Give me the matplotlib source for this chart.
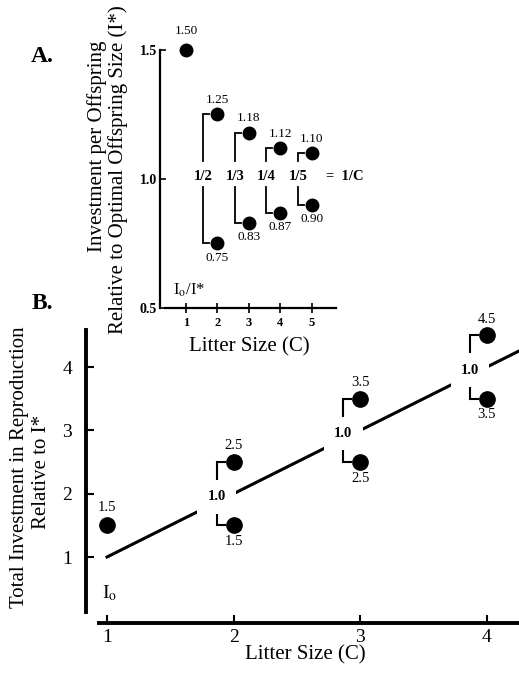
import matplotlib
matplotlib.use("Agg")
import matplotlib.pyplot as plt

plt.rcParams['font.family'] = ['Liberation Serif', 'DejaVu Serif']
plt.rcParams['mathtext.fontset'] = 'stix'

# ---------------- Panel A data ----------------
single_c = [1]
single_i = [1.50]
single_lbl = ["1.50"]
pair_c = [2, 3, 4, 5]
upper_i = [1.25, 1.18, 1.12, 1.10]
lower_i = [0.75, 0.83, 0.87, 0.90]
upper_lbl = ["1.25", "1.18", "1.12", "1.10"]
lower_lbl = ["0.75", "0.83", "0.87", "0.90"]
frac_lbl = ["1/2", "1/3", "1/4", "1/5"]
a_xticks = [1, 2, 3, 4, 5]
a_yticks = [0.5, 1.0, 1.5]
a_yticklabels = ["0.5", "1.0", "1.5"]

# ---------------- Panel B data ----------------
b_single_c = [1]
b_single_t = [1.5]
b_single_lbl = ["1.5"]
b_pair_c = [2, 3, 4]
b_upper = [2.5, 3.5, 4.5]
b_lower = [1.5, 2.5, 3.5]
b_upper_lbl = ["2.5", "3.5", "4.5"]
b_lower_lbl = ["1.5", "2.5", "3.5"]
trend_c = [1.0, 4.26]
trend_t = [1.0, 4.26]
b_xticks = [1, 2, 3, 4]
b_yticks = [1, 2, 3, 4]

W, H = 519, 675
fig = plt.figure(figsize=(W / 100, H / 100), dpi=100)

def ax_rect(x0, y0, x1, y1):
    return [x0 / W, 1 - y1 / H, (x1 - x0) / W, (y1 - y0) / H]

# ================= Panel A =================
axA = fig.add_axes(ax_rect(160, 19, 335.6, 308))
axA.set_xlim(0.175, 5.75)
axA.set_ylim(0.5, 1.62)
for s in ['top', 'right']:
    axA.spines[s].set_visible(False)
axA.spines['left'].set_bounds(0.5, 1.5)
axA.spines['bottom'].set_bounds(0.33, 5.75)
axA.spines['left'].set_linewidth(1.6)
axA.spines['bottom'].set_linewidth(1.6)
axA.set_xticks(a_xticks)
axA.set_xticklabels([str(v) for v in a_xticks], fontsize=9, fontweight='bold')
axA.set_yticks(a_yticks)
axA.set_yticklabels(a_yticklabels, fontsize=10, fontweight='bold')
axA.tick_params(axis='x', direction='inout', length=7, width=1.2, pad=3)
axA.tick_params(axis='y', direction='in', length=4, width=1.2, pad=2)

msA = 9
axA.plot(single_c, single_i, 'o', color='black', ms=msA, clip_on=False, zorder=4)
axA.plot(pair_c, upper_i, 'o', color='black', ms=msA, zorder=4)
axA.plot(pair_c, lower_i, 'o', color='black', ms=msA, zorder=4)
for c, v, l in zip(single_c, single_i, single_lbl):
    axA.annotate(l, (c, v), xytext=(0, 9), textcoords='offset points',
                 ha='center', va='bottom', fontsize=9.5, annotation_clip=False)
for c, v, l in zip(pair_c, upper_i, upper_lbl):
    axA.annotate(l, (c, v), xytext=(0, 6), textcoords='offset points',
                 ha='center', va='bottom', fontsize=9.5)
for c, v, l in zip(pair_c, lower_i, lower_lbl):
    axA.annotate(l, (c, v), xytext=(0, -6), textcoords='offset points',
                 ha='center', va='top', fontsize=9.5)
# brackets
for c, u, lo, f in zip(pair_c, upper_i, lower_i, frac_lbl):
    bx = c - 0.45
    sx = c - 0.26
    axA.plot([sx, bx, bx], [u, u, 1.07], color='black', lw=1.3, solid_joinstyle='miter')
    axA.plot([sx, bx, bx], [lo, lo, 0.97], color='black', lw=1.3, solid_joinstyle='miter')
    axA.text(bx, 1.01, f, ha='center', va='center', fontsize=10.5, fontweight='bold')
axA.text(5.45, 1.01, "=  1/C", ha='left', va='center', fontsize=10.5,
         fontweight='bold', clip_on=False)
axA.text(0.6, 0.57, r"I$_{\mathrm{o}}$/I*", ha='left', va='center', fontsize=12)

fig.text(97 / W, 1 - 146 / H, "Investment per Offspring", rotation=90,
         ha='center', va='center', fontsize=15)
fig.text(118 / W, 1 - 170 / H, "Relative to Optimal Offspring Size (I*)",
         rotation=90, ha='center', va='center', fontsize=15)
fig.text(249 / W, 1 - 347 / H, "Litter Size (C)", ha='center', va='center', fontsize=15)
fig.text(42 / W, 1 - 57 / H, "A.", ha='center', va='center', fontsize=17, fontweight='bold')
fig.text(42 / W, 1 - 304 / H, "B.", ha='center', va='center', fontsize=17, fontweight='bold')

# ================= Panel B =================
axB = fig.add_axes(ax_rect(86, 329, 519, 623))
axB.set_xlim(0.834, 4.253)
axB.set_ylim(-0.042, 4.6)
for s in ['top', 'right']:
    axB.spines[s].set_visible(False)
axB.spines['left'].set_bounds(0.13, 4.584)
axB.spines['bottom'].set_bounds(0.937, 4.253)
axB.spines['left'].set_linewidth(2.8)
axB.spines['bottom'].set_linewidth(2.8)
axB.set_xticks(b_xticks)
axB.set_xticklabels([str(v) for v in b_xticks], fontsize=14)
axB.set_yticks(b_yticks)
axB.set_yticklabels([str(v) for v in b_yticks], fontsize=14)
axB.tick_params(axis='x', direction='in', length=6, width=1.5, pad=4)
axB.tick_params(axis='y', direction='in', length=6, width=1.5, pad=10)

axB.plot(trend_c, trend_t, color='black', lw=2.2, zorder=2, clip_on=False)
msB = 11
axB.plot(b_single_c, b_single_t, 'o', color='black', ms=msB, zorder=4)
axB.plot(b_pair_c, b_upper, 'o', color='black', ms=msB, zorder=4, clip_on=False)
axB.plot(b_pair_c, b_lower, 'o', color='black', ms=msB, zorder=4)
for c, v, l in zip(b_single_c, b_single_t, b_single_lbl):
    axB.annotate(l, (c, v), xytext=(0, 8), textcoords='offset points',
                 ha='center', va='bottom', fontsize=10.5)
for c, v, l in zip(b_pair_c, b_upper, b_upper_lbl):
    axB.annotate(l, (c, v), xytext=(0, 7), textcoords='offset points',
                 ha='center', va='bottom', fontsize=10.5, annotation_clip=False)
for c, v, l in zip(b_pair_c, b_lower, b_lower_lbl):
    axB.annotate(l, (c, v), xytext=(0, -7), textcoords='offset points',
                 ha='center', va='top', fontsize=10.5)
for c, u, lo in zip(b_pair_c, b_upper, b_lower):
    bx = c - 0.135
    sx = c - 0.07
    axB.plot([sx, bx, bx], [u, u, c + 0.2], color='black', lw=1.5,
             solid_joinstyle='miter', zorder=2)
    axB.plot([sx, bx, bx], [lo, lo, c - 0.2], color='black', lw=1.5,
             solid_joinstyle='miter', zorder=2)
    axB.text(bx, c - 0.05, "1.0", ha='center', va='center', fontsize=10.5,
             fontweight='bold', zorder=3,
             bbox=dict(boxstyle='square,pad=0.7', fc='white', ec='none'))
axB.text(1.02, 0.43, r"I$_{\mathrm{o}}$", ha='center', va='center', fontsize=14)

fig.text(20 / W, 1 - 467 / H, "Total Investment in Reproduction", rotation=90,
         ha='center', va='center', fontsize=15)
fig.text(41 / W, 1 - 472 / H, "Relative to I*", rotation=90,
         ha='center', va='center', fontsize=15)
fig.text(305 / W, 1 - 655 / H, "Litter Size (C)", ha='center', va='center', fontsize=15)

fig.savefig("out.png", dpi=100)
